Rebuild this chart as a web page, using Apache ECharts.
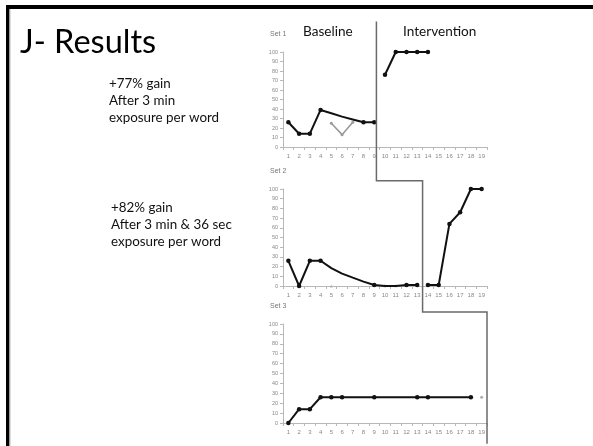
<!DOCTYPE html>
<html><head><meta charset="utf-8">
<script src="https://cdn.jsdelivr.net/npm/echarts@6/dist/echarts.min.js"></script>
<style>html,body{margin:0;padding:0;background:#fff}#c{width:593px;height:446px}</style>
</head><body><div id="c"></div>
<script>
const categories = ['1','2','3','4','5','6','7','8','9','10','11','12','13','14','15','16','17','18','19'];
const yTicks = [0,10,20,30,40,50,60,70,80,90,100];

// Set 1
const set1Baseline = [26,14,14,39,35.5,32,29,26,26,null,null,null,null,null,null,null,null,null,null];
const set1BaselineMarked = [1,1,1,1,0,0,0,1,1,0,0,0,0,0,0,0,0,0,0];
const set1Grey = [null,null,null,null,25,13,26,null,null,null,null,null,null,null,null,null,null,null,null];
const set1Intervention = [null,null,null,null,null,null,null,null,null,76,100,100,100,100,null,null,null,null,null];

// Set 2
const set2Baseline = [26,0,26,26,18.5,12.8,8.6,4.5,1,0,0,1,1,null,null,null,null,null,null];
const set2BaselineMarked = [1,1,1,1,0,0,0,0,1,0,0,1,1,0,0,0,0,0,0];
const set2Grey = [null,null,null,null,0,null,null,null,null,0,0,null,null,null,null,null,null,null,null];
const set2Intervention = [null,null,null,null,null,null,null,null,null,null,null,null,null,1,1,64,76,100,100];

// Set 3
const set3Line = [0,14,14,26,26,26,null,null,26,null,null,null,26,26,null,null,null,26,null];
const set3Grey = [null,null,null,null,null,null,null,null,null,null,null,null,null,null,null,null,null,null,26];

// phase change line (category units / y values in each panel)
const phaseX = [9.2, 13.5, 19.5];
const phaseY = {top: 132, step1: 108.5, step2: 112, bottom: -21};

const setLabels = ['Set 1','Set 2','Set 3'];
const gridTops = [52, 189, 324];
const gridHeights = [95, 97, 99];

const chart = echarts.init(document.getElementById('c'), null, {renderer:'canvas'});

function marked(vals, marks){
  return vals.map((v,i)=> v==null ? null : (marks[i] ? v : {value:v, symbol:'none'}));
}

const grids = gridTops.map((t,i)=>({left:283, width:204, top:t, height:gridHeights[i]}));
const xAxes = grids.map((g,i)=>({
  type:'category', gridIndex:i, data:categories, boundaryGap:true,
  axisLine:{lineStyle:{color:'#b8b8b8', width:1}},
  axisTick:{show:true, length:3, lineStyle:{color:'#b8b8b8'}},
  axisLabel:{fontSize:6, color:'#888', margin:6, fontFamily:'Liberation Sans', interval:0}
}));
const yAxes = grids.map((g,i)=>({
  type:'value', gridIndex:i, min:0, max:100, interval:10,
  axisLine:{show:true, lineStyle:{color:'#b8b8b8', width:1}},
  axisTick:{show:true, length:3, lineStyle:{color:'#b8b8b8'}},
  splitLine:{show:false},
  axisLabel:{fontSize:5.5, color:'#888', margin:5, fontFamily:'Liberation Sans'}
}));

const blackLine = {type:'line', symbol:'circle', symbolSize:4.5, showAllSymbol:true,
  lineStyle:{color:'#111', width:2}, itemStyle:{color:'#111'}, animation:false};

const series = [
  Object.assign({}, blackLine, {xAxisIndex:0, yAxisIndex:0, data:marked(set1Baseline,set1BaselineMarked)}),
  {type:'line', xAxisIndex:0, yAxisIndex:0, data:set1Grey, symbol:'circle', symbolSize:3,
    lineStyle:{color:'#9a9a9a', width:1.6}, itemStyle:{color:'#9a9a9a'}, animation:false},
  Object.assign({}, blackLine, {xAxisIndex:0, yAxisIndex:0, data:set1Intervention}),
  Object.assign({}, blackLine, {xAxisIndex:1, yAxisIndex:1, data:marked(set2Baseline,set2BaselineMarked)}),
  {type:'scatter', xAxisIndex:1, yAxisIndex:1, data:set2Grey.map((v,i)=>v==null?null:(i===4?{value:v,symbol:'triangle'}:v)),
    symbol:'circle', symbolSize:3, itemStyle:{color:'#aaa'}, animation:false},
  Object.assign({}, blackLine, {xAxisIndex:1, yAxisIndex:1, data:set2Intervention}),
  Object.assign({}, blackLine, {xAxisIndex:2, yAxisIndex:2, data:set3Line, connectNulls:true}),
  {type:'scatter', xAxisIndex:2, yAxisIndex:2, data:set3Grey, symbol:'circle', symbolSize:3,
    itemStyle:{color:'#999'}, animation:false}
];

const textFont = 'Lato';
const titles = [
  {text:'J- Results', left:20, top:26, padding:0, textStyle:{fontSize:32.5, fontWeight:'normal', color:'#000', fontFamily:textFont}},
  {text:'+77% gain\nAfter 3 min\nexposure per word', left:109, top:75, padding:0,
    textStyle:{fontSize:13.4, fontWeight:'normal', color:'#111', fontFamily:textFont, lineHeight:17}},
  {text:'+82% gain\nAfter 3 min & 36 sec\nexposure per word', left:111, top:199, padding:0,
    textStyle:{fontSize:13.4, fontWeight:'normal', color:'#111', fontFamily:textFont, lineHeight:17}},
  {text:'Baseline', left:303, top:25, padding:0, textStyle:{fontSize:13.6, fontWeight:'normal', color:'#111', fontFamily:textFont}},
  {text:'Intervention', left:403, top:25, padding:0, textStyle:{fontSize:13.6, fontWeight:'normal', color:'#111', fontFamily:textFont}}
];
setLabels.forEach((s,i)=>{
  titles.push({text:s, left:270, top:gridTops[i]-21, padding:0,
    textStyle:{fontSize:7, fontWeight:'normal', color:'#777', fontFamily:'Liberation Sans'}});
});

chart.setOption({
  animation:false,
  backgroundColor:'#fff',
  title:titles,
  grid:grids, xAxis:xAxes, yAxis:yAxes, series:series
});

// phase change line placed through the library's own scales
function px(grid, catUnits, yVal){
  const a = chart.convertToPixel({gridIndex:grid}, [0, yVal]);
  const b = chart.convertToPixel({gridIndex:grid}, [1, yVal]);
  return [a[0] + (catUnits-1)*(b[0]-a[0]), a[1]];
}
const p1 = px(0, phaseX[0], phaseY.top);
const p2 = px(1, phaseX[0], phaseY.step1);
const p3 = px(1, phaseX[1], phaseY.step1);
const p4 = px(2, phaseX[1], phaseY.step2);
const p5 = px(2, phaseX[2], phaseY.step2);
const p6 = px(2, phaseX[2], phaseY.bottom);
chart.setOption({
  graphic:[
    {type:'rect', shape:{x:6, y:5, width:587, height:4}, style:{fill:'#000'}, z:100},
    {type:'rect', shape:{x:6, y:5, width:3.5, height:441}, style:{fill:'#000'}, z:100},
    {type:'rect', shape:{x:9.5, y:9, width:1, height:437}, style:{fill:'#bbb'}, z:100},
    {type:'polyline', shape:{points:[p1,p2,p3,p4,p5,p6]}, style:{stroke:'#6a6a6a', lineWidth:1.5, fill:null}, z:50}
  ]
});
</script></body></html>
